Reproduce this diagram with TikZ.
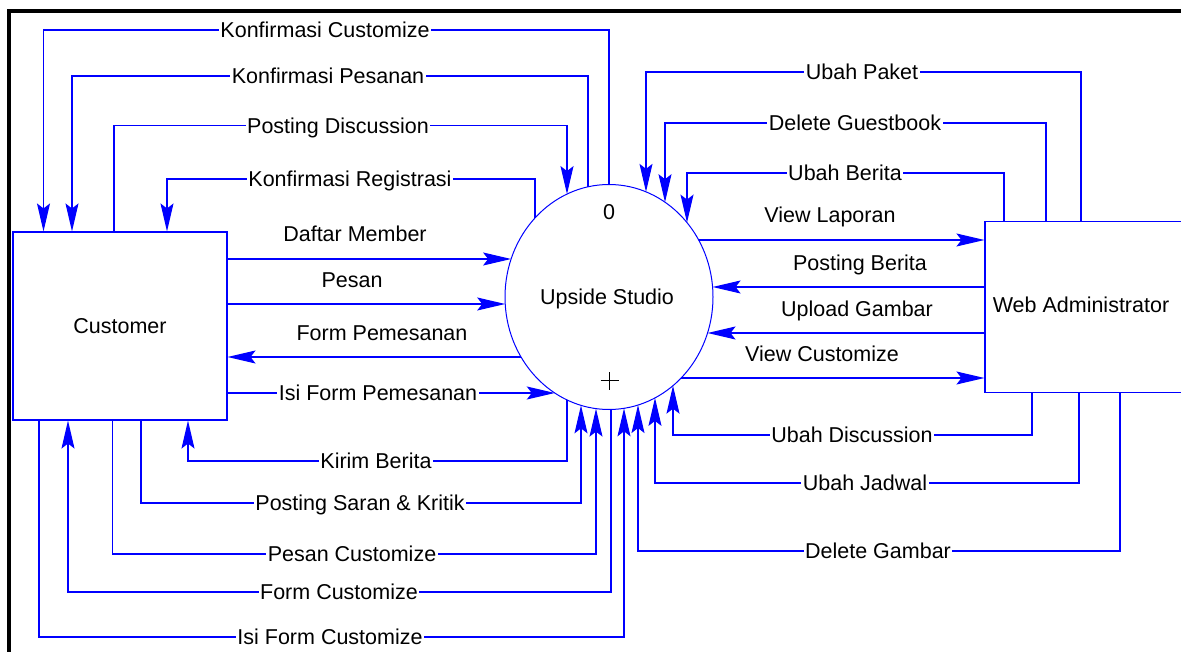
\documentclass[tikz,border=0pt]{standalone}
\usepackage{fontspec}
\setmainfont{Liberation Sans}
\usetikzlibrary{shapes.geometric,arrows.meta}
\begin{document}
\begin{tikzpicture}[x=1pt,y=-1pt,
  flow/.style={draw=blue, line width=1.1pt},
  >={Stealth[length=28pt,width=13pt,inset=5pt]},
  fnt/.style={font=\fontsize{21.5pt}{26pt}\selectfont},
  lab/.style={fnt, fill=white, inner xsep=1.5pt, inner ysep=0.5pt, text height=15.4pt, text depth=0pt},
  txt/.style={fnt, inner sep=0pt, text height=15.4pt, text depth=0pt},
  box/.style={fnt, draw=blue, line width=1.1pt, rectangle, inner sep=0pt}]
\useasboundingbox (0,0) rectangle (1181,652);
\fill[white] (0,0) rectangle (1181,652);
% frame
\draw[line width=4pt] (8.5,652) -- (8.5,11.5) -- (1190,11.5);
% nodes
\node[box, minimum width=214pt, minimum height=188pt] (C) at (120,326) {Customer};
\node[box, ellipse, minimum width=208pt, minimum height=225pt, line width=1pt] (P) at (609,297) {};
\node[txt] (ps) at (607,297) {Upside Studio};
\node[txt] (p0) at (609,212) {0};
\draw[line width=1.2pt] (600.5,380.7) -- (618.5,380.7) (609.5,372) -- (609.5,390);
\node[box, minimum width=205pt, minimum height=171.6pt] (W) at (1087.5,307) {};
\node[txt] (wt) at (1081,305) {Web Administrator};
% border points on the process ellipse
\def\ecx{609}\def\ecy{297}\def\erx{104}\def\ery{112.5}
\foreach \n/\x in {t1/609,t2/588,t3/567,t4/535,t14/646,t15/665,t16/687}
  \coordinate (\n) at ({\x},{\ecy-\ery*sqrt(1-((\x-\ecx)/\erx)^2)});
\foreach \n/\x in {b9/567,b10/581,b11/596,b12/611,b13/624,b21/673,b22/655,b23/638}
  \coordinate (\n) at ({\x},{\ecy+\ery*sqrt(1-((\x-\ecx)/\erx)^2)});
\foreach \n/\y in {l5/259,l6/304,l7/357,l8/393}
  \coordinate (\n) at ({\ecx-\erx*sqrt(1-((\y-\ecy)/\ery)^2)},{\y});
\foreach \n/\y in {r17/240,r18/287,r19/333,r20/378}
  \coordinate (\n) at ({\ecx+\erx*sqrt(1-((\y-\ecy)/\ery)^2)},{\y});
% connectors, customer side
\draw[flow,->] (t1) -- (t1 |- 0,30) -| (C.north -| 43.5,0);
\draw[flow,->] (t2) -- (t2 |- 0,76) -| (C.north -| 72,0);
\draw[flow,->] (C.north -| 114,0) |- (t3 |- 0,125.7) -- (t3);
\draw[flow,->] (t4) -- (t4 |- 0,179) -| (C.north -| 167,0);
\draw[flow,->] (C.east |- l5) -- (l5);
\draw[flow,->] (C.east |- l6) -- (l6);
\draw[flow,->] (l7) -- (C.east |- l7);
\draw[flow,->] (C.east |- l8) -- (l8);
\draw[flow,->] (b9) -- (b9 |- 0,461) -| (C.south -| 188,0);
\draw[flow,->] (C.south -| 141,0) |- (b10 |- 0,503) -- (b10);
\draw[flow,->] (C.south -| 112.5,0) |- (b11 |- 0,554) -- (b11);
\draw[flow,->] (b12) -- (b12 |- 0,592) -| (C.south -| 68,0);
\draw[flow,->] (C.south -| 39,0) |- (b13 |- 0,637) -- (b13);
% connectors, administrator side
\draw[flow,->] (W.north -| 1081,0) |- (t14 |- 0,72) -- (t14);
\draw[flow,->] (W.north -| 1046,0) |- (t15 |- 0,123) -- (t15);
\draw[flow,->] (W.north -| 1004,0) |- (t16 |- 0,173) -- (t16);
\draw[flow,->] (r17) -- (W.west |- r17);
\draw[flow,->] (W.west |- r18) -- (r18);
\draw[flow,->] (W.west |- r19) -- (r19);
\draw[flow,->] (r20) -- (W.west |- r20);
\draw[flow,->] (W.south -| 1032,0) |- (b21 |- 0,435) -- (b21);
\draw[flow,->] (W.south -| 1079,0) |- (b22 |- 0,483) -- (b22);
\draw[flow,->] (W.south -| 1120,0) |- (b23 |- 0,551) -- (b23);
% labels
\node[lab] (n1) at (325,30) {Konfirmasi Customize};
\node[lab] (n2) at (328,76) {Konfirmasi Pesanan};
\node[lab] (n3) at (338,125.7) {Posting Discussion};
\node[lab] (n4) at (350,179) {Konfirmasi Registrasi};
\node[txt] (n5) at (355,234) {Daftar Member};
\node[txt] (n6) at (352,280) {Pesan};
\node[txt] (n7) at (382,333) {Form Pemesanan};
\node[lab] (n8) at (378,393) {Isi Form Pemesanan};
\node[lab] (n9) at (376,461) {Kirim Berita};
\node[lab] (n10) at (360,503) {Posting Saran \& Kritik};
\node[lab] (n11) at (352,554) {Pesan Customize};
\node[lab] (n12) at (339,592) {Form Customize};
\node[lab] (n13) at (330,637) {Isi Form Customize};
\node[lab] (n14) at (862,72) {Ubah Paket};
\node[lab] (n15) at (855,123) {Delete Guestbook};
\node[lab] (n16) at (845,173) {Ubah Berita};
\node[txt] (n17) at (830,215) {View Laporan};
\node[txt] (n18) at (860,263) {Posting Berita};
\node[txt] (n19) at (857,309) {Upload Gambar};
\node[txt] (n20) at (822,354) {View Customize};
\node[lab] (n21) at (852,435) {Ubah Discussion};
\node[lab] (n22) at (865,483) {Ubah Jadwal};
\node[lab] (n23) at (878,551) {Delete Gambar};
\end{tikzpicture}
\end{document}
